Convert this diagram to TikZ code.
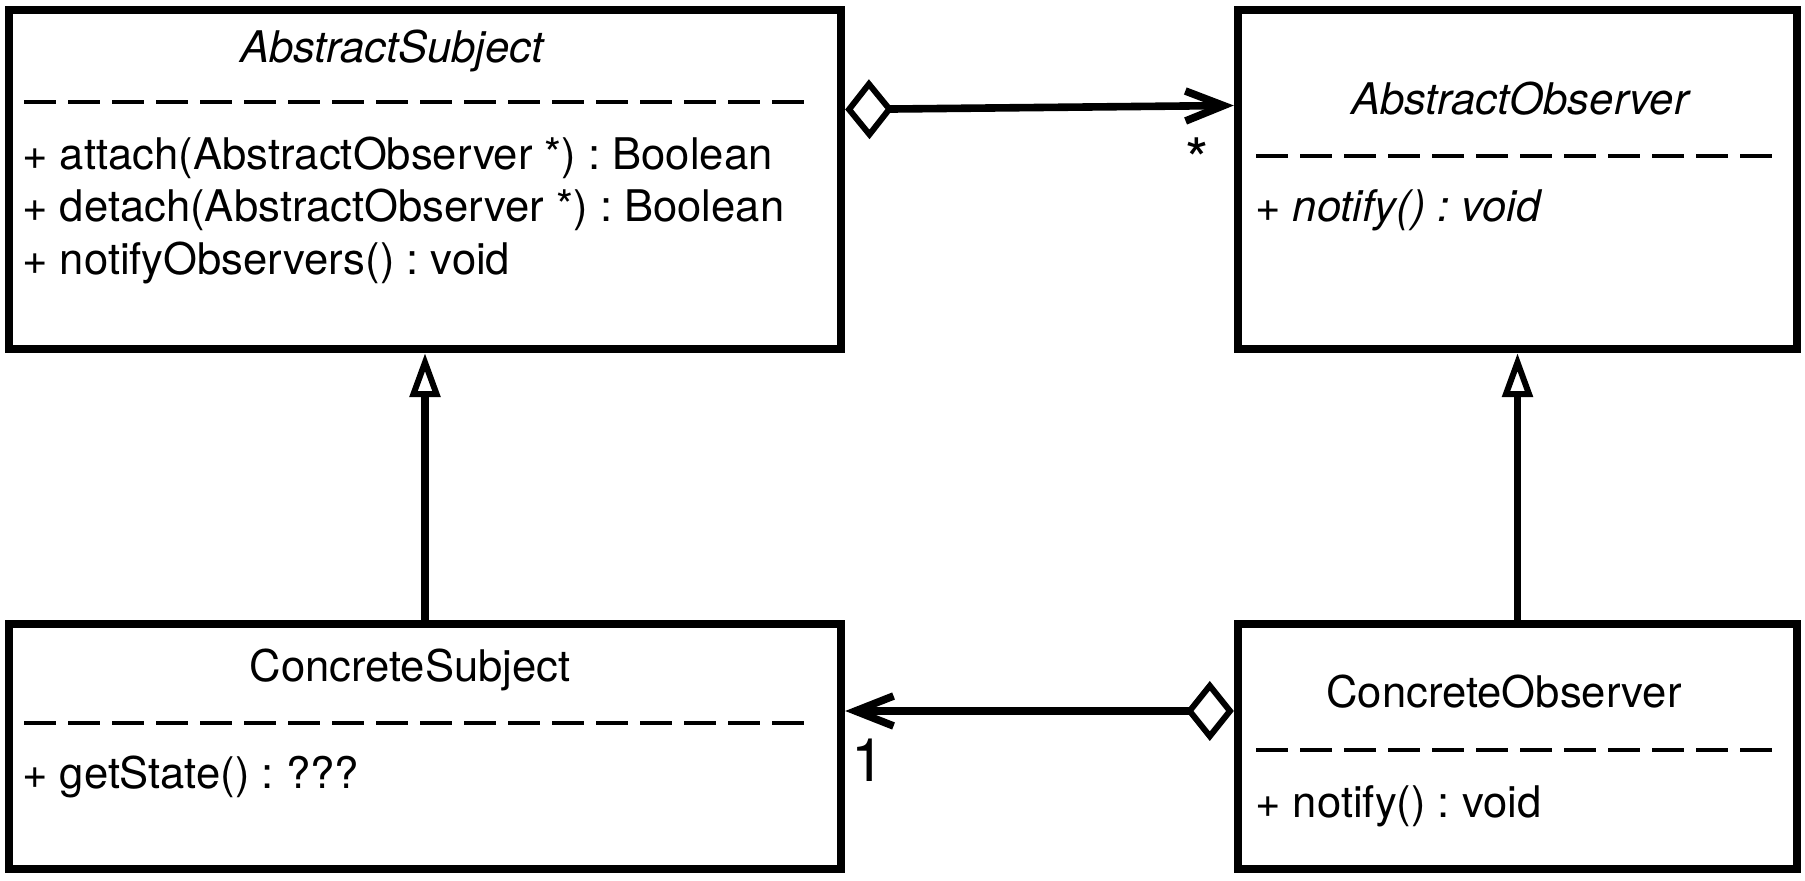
\documentclass[tikz,border=0pt]{standalone}
\usepackage{fontspec}
\setmainfont{TeX Gyre Heros}
\usetikzlibrary{arrows.meta}
\frenchspacing

\newcommand{\umlfont}{\fontsize{21.8}{26}\selectfont}

\begin{document}
\begin{tikzpicture}[x=0.5pt,y=-0.5pt,
  umlclass/.style={draw,line width=4.2pt,inner sep=0pt},
  classname/.style={anchor=base,inner sep=0pt,font=\umlfont},
  abstractname/.style={classname,font=\umlfont\itshape},
  member/.style={anchor=base west,inner sep=0pt,font=\umlfont},
  compsep/.style={line width=2pt,dash pattern=on 16pt off 6pt},
  mult/.style={inner sep=0pt,font=\fontsize{30}{32}\selectfont},
  aggregation/.style={line width=3.8pt,
    {Diamond[open,length=24pt,width=30pt,line width=3pt]}-{Straight Barb[length=19pt,width=15pt]}},
  inherit/.style={line width=3.8pt,-{Triangle[open,length=22pt,width=15pt,line width=3pt]}}]
  \useasboundingbox (0,0) rectangle (1805,881);

  % classes
  \node[umlclass,minimum width=416pt,minimum height=169.5pt] (asub) at (425,179.5) {};
  \node[umlclass,minimum width=279.5pt,minimum height=169.5pt] (aobs) at (1517.5,179.5) {};
  \node[umlclass,minimum width=416pt,minimum height=122.5pt] (csub) at (425,746.5) {};
  \node[umlclass,minimum width=279.5pt,minimum height=122.5pt] (cobs) at (1517.5,746.5) {};

  % AbstractSubject
  \node[abstractname] (asubname) at (392,63) {AbstractSubject};
  \draw[compsep] (24,102) -- (804,102);
  \node[member] (attach) at (22,170) {+ attach(AbstractObserver *) : Boolean};
  \node[member] (detach) at (22,222) {+ detach(AbstractObserver *) : Boolean};
  \node[member] (notifyall) at (22,275) {+ notifyObservers() : void};

  % AbstractObserver
  \node[abstractname] (aobsname) at (1520,115) {AbstractObserver};
  \draw[compsep] (1256,156) -- (1772,156);
  \node[member] (anotify) at (1255,222) {+ \textit{notify() : void}};

  % ConcreteSubject
  \node[classname] (csubname) at (410,682) {ConcreteSubject};
  \draw[compsep] (24,723) -- (804,723);
  \node[member] (getstate) at (22,788) {+ getState() : ???};

  % ConcreteObserver
  \node[classname] (cobsname) at (1504,708) {ConcreteObserver};
  \draw[compsep] (1256,750) -- (1772,750);
  \node[member] (cnotify) at (1255,817) {+ notify() : void};

  % relations
  \draw[aggregation] ([yshift=35pt]asub.east) -- ([yshift=37pt]aobs.west);
  \draw[aggregation] ([yshift=17.75pt]cobs.west) -- ([yshift=17.75pt]csub.east);
  \draw[inherit] (csub) -- (asub);
  \draw[inherit] (cobs) -- (aobs);

  \node[mult] (many) at (1197,160) {*};
  \node[mult] (one) at (868,760) {1};
\end{tikzpicture}
\end{document}
